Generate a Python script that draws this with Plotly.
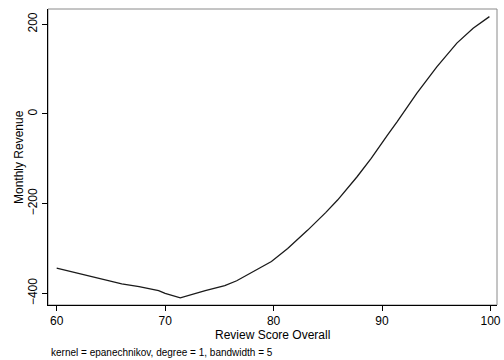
import plotly.graph_objects as go

review_score = [60, 61.5, 63, 64.5, 66, 67.6, 69.4, 70, 71.4, 73.7, 75.5, 76.6, 78.1, 78.6, 79.8,
                81.3, 83.15, 84.8, 85.9, 87.7, 89, 90.5, 91.4, 93.2, 95.05, 96.9, 98.4, 99.9]
monthly_revenue = [-344, -353, -362, -370, -379, -385, -394, -400, -410, -394, -383, -372, -351, -345, -329,
                   -300, -259, -220, -192, -140, -99, -47, -17, 46, 105, 158, 191, 217]
x_ticks = [60, 70, 80, 90, 100]
y_ticks = [-400, -200, 0, 200]

FONT = "Liberation Sans, Arial, Helvetica, sans-serif"

fig = go.Figure()
fig.add_trace(go.Scatter(x=review_score, y=monthly_revenue, mode="lines",
                         line=dict(color="#1a1a1a", width=1.3), showlegend=False,
                         hoverinfo="skip"))

fig.update_layout(
    width=504, height=360,
    margin=dict(l=48, r=3, t=9, b=55),
    paper_bgcolor="white", plot_bgcolor="white",
    font=dict(family=FONT, size=12, color="black"),
    xaxis=dict(range=[59.2, 100.6], tickvals=x_ticks, ticks="outside", ticklen=5,
               tickcolor="black", showline=True, linecolor="black", linewidth=1,
               showgrid=False, zeroline=False, tickfont=dict(size=12),
               ticklabeloverflow="allow"),
    yaxis=dict(range=[-426, 234], tickvals=y_ticks, ticks="outside", ticklen=5,
               tickcolor="black", showline=True, linecolor="black", linewidth=1,
               showgrid=False, zeroline=False, tickangle=-90, tickfont=dict(size=12),
               ticklabeloverflow="allow"),
    shapes=[dict(type="rect", xref="paper", yref="paper", x0=0, x1=1, y0=0, y1=1,
                 line=dict(color="#8a8a8a", width=1), layer="below")],
    annotations=[
        dict(text="Review Score Overall", xref="paper", yref="paper", x=0.5, y=-30/296,
             xanchor="center", yanchor="middle", showarrow=False,
             font=dict(size=12)),
        dict(text="Monthly Revenue", xref="paper", yref="paper", x=0, xshift=-29,
             y=0.5, textangle=-90, xanchor="center", yanchor="middle", showarrow=False,
             font=dict(size=12)),
        dict(text="kernel = epanechnikov, degree = 1, bandwidth = 5", xref="paper",
             yref="paper", x=0, xshift=1, y=-47/296, xanchor="left", yanchor="middle",
             showarrow=False, font=dict(size=10)),
    ],
)

fig.write_html("out.html", config={"displayModeBar": False},
               post_script="document.body.style.margin='0';document.body.style.overflow='hidden';")
